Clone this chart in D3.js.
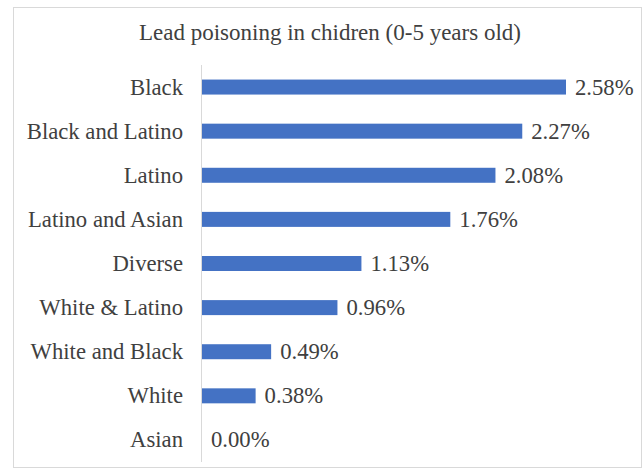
<!DOCTYPE html>
<html><head><meta charset="utf-8">
<script src="https://cdn.jsdelivr.net/npm/d3@7"></script>
<style>body{margin:0;background:#fff}svg{display:block}</style>
</head><body>
<script>
const categories = ["Black","Black and Latino","Latino","Latino and Asian","Diverse","White & Latino","White and Black","White","Asian"];
const values = [2.58,2.27,2.08,1.76,1.13,0.96,0.49,0.38,0.00];
const title = "Lead poisoning in chidren (0-5 years old)";

const W=644,H=476;
const svg=d3.select("body").append("svg").attr("width",W).attr("height",H);
svg.append("rect").attr("x",13.5).attr("y",7.5).attr("width",628).attr("height",460)
  .attr("fill","#fff").attr("stroke","#d9d9d9");
const font="'Liberation Serif','Times New Roman',serif";
svg.append("text").attr("x",330).attr("y",40).attr("text-anchor","middle")
  .attr("font-family",font).attr("font-size",23).attr("fill","#404040").text(title);

const x=d3.scaleLinear().domain([0,2.58]).range([202,566]);
const y=d3.scaleBand().domain(categories).range([65,462]).paddingInner(0.66).paddingOuter(0.33);

svg.append("line").attr("x1",201.5).attr("x2",201.5).attr("y1",65).attr("y2",462)
  .attr("stroke","#d9d9d9");

svg.selectAll("rect.bar").data(values).join("rect").attr("class","bar")
  .attr("x",x(0)).attr("y",(d,i)=>y(categories[i])).attr("width",d=>x(d)-x(0))
  .attr("height",y.bandwidth()).attr("fill","#4472c4");

svg.selectAll("text.cat").data(categories).join("text").attr("class","cat")
  .attr("x",183).attr("y",d=>y(d)+y.bandwidth()/2).attr("dy","0.33em")
  .attr("text-anchor","end").attr("font-family",font).attr("font-size",22.7).attr("fill","#404040").text(d=>d);

svg.selectAll("text.val").data(values).join("text").attr("class","val")
  .attr("x",d=>x(d)+9).attr("y",(d,i)=>y(categories[i])+y.bandwidth()/2).attr("dy","0.33em")
  .attr("font-family",font).attr("font-size",22.7).attr("fill","#404040").text(d=>d.toFixed(2)+"%");
</script>
</body></html>
